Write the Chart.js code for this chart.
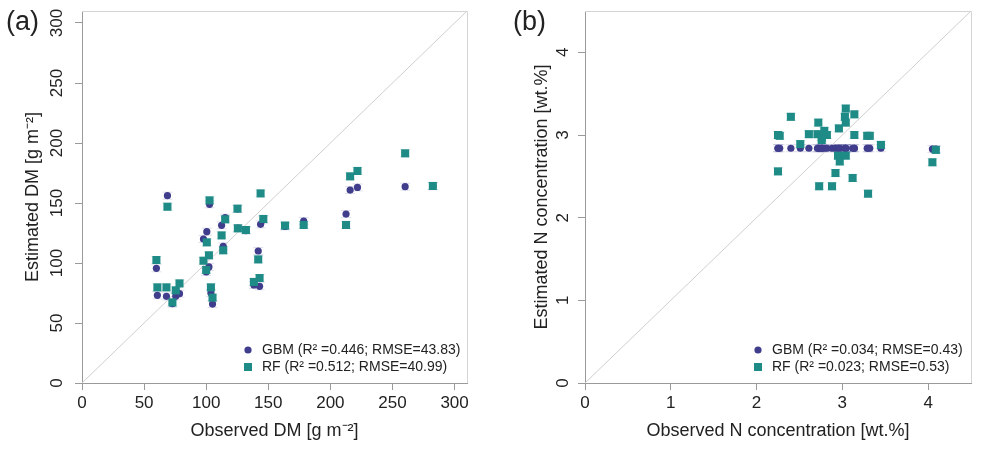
<!DOCTYPE html>
<html>
<head>
<meta charset="utf-8">
<script src="https://cdn.jsdelivr.net/npm/chart.js@4.4.0/dist/chart.umd.min.js"></script>
<style>
  html, body { margin: 0; padding: 0; background: #fff; }
  #wrap { position: relative; width: 981px; height: 451px; }
  canvas { position: absolute; top: 0; }
  #cA { left: 0; }
  #cB { left: 495px; }
</style>
</head>
<body>
<div id="wrap">
  <canvas id="cA" width="490" height="451"></canvas>
  <canvas id="cB" width="486" height="451"></canvas>
</div>
<script>
// (a) dry matter, g m-2 : observed vs estimated
var obsDM = [59.9, 60.7, 68.0, 68.8, 72.8, 75.5, 78.5, 97.8, 100.0, 100.5, 102.2, 102.7, 103.8, 105.1, 112.4, 113.7,
             115.3, 125.2, 125.5, 132.0, 138.4, 141.9, 143.0, 143.8, 146.0, 163.5, 178.5, 212.6, 215.9, 221.8, 260.2, 282.5];
var gbmDM = [95.6, 73.1, 72.2, 156.1, 66.1, 72.2, 74.4, 120.0, 92.5, 126.1, 96.7, 148.9, 75.0, 65.8, 131.4, 113.9,
             137.8, 145.0, 129.0, 127.0, 81.7, 110.0, 80.6, 132.2, 136.0, 130.5, 135.0, 140.8, 160.8, 163.0, 163.6, 164.0];
var rfDM  = [102.5, 79.7, 79.7, 146.9, 67.2, 77.2, 83.0, 101.9, 94.2, 117.2, 106.4, 152.2, 79.7, 71.1, 123.0, 110.6,
             136.4, 145.3, 128.9, 127.5, 84.2, 103.0, 87.5, 158.0, 136.7, 131.2, 131.7, 131.7, 172.2, 176.7, 191.4, 164.2];
var ticksDM = [0, 50, 100, 150, 200, 250, 300];
var limDM = 310;

// (b) N concentration, wt.%
var obsN = [2.25, 2.27, 2.25, 2.40, 2.51, 2.61, 2.72, 2.71, 2.73, 2.76, 2.79, 2.82, 2.76, 2.88, 2.92, 2.95,
            2.96, 2.97, 3.03, 3.04, 3.04, 3.04, 3.14, 3.14, 3.12, 3.29, 3.32, 3.30, 3.45, 4.05, 4.09];
var gbmN = [2.84, 2.84, 2.84, 2.84, 2.84, 2.84, 2.84, 2.84, 2.84, 2.84, 2.84, 2.84, 2.84, 2.84, 2.84, 2.84,
            2.84, 2.84, 2.84, 2.84, 2.84, 2.84, 2.84, 2.84, 2.84, 2.84, 2.84, 2.84, 2.84, 2.83, 2.83];
var rfN  = [3.00, 2.99, 2.56, 3.22, 2.89, 3.01, 3.15, 3.01, 2.38, 2.97, 3.05, 3.00, 2.94, 2.38, 2.54, 2.75,
            3.08, 2.68, 3.22, 3.32, 3.15, 2.75, 3.25, 3.00, 2.48, 2.99, 2.99, 2.29, 2.88, 2.67, 2.82];
var ticksN = [0, 1, 2, 3, 4];
var limN = 4.5;

var legendDM = ['GBM (R\u00b2 =0.446; RMSE=43.83)', 'RF (R\u00b2 =0.512; RMSE=40.99)'];
var legendN  = ['GBM (R\u00b2 =0.034; RMSE=0.43)', 'RF (R\u00b2 =0.023; RMSE=0.53)'];

var FONT = '"Liberation Sans", Arial, Helvetica, sans-serif';
var GBM_COL = '#3f3d8c';
var RF_COL = '#1f8b87';

function pts(xs, ys) {
  return xs.map(function (x, i) { return { x: x, y: ys[i] }; });
}

// light whiskers behind the markers, the box, rotated y labels, tag and legend
var deco = {
  id: 'deco',
  beforeDatasetsDraw: function (chart) {
    var ctx = chart.ctx;
    chart.data.datasets.forEach(function (ds, i) {
      if (!ds.capColor) return;
      var meta = chart.getDatasetMeta(i);
      ctx.save();
      ctx.strokeStyle = ds.capColor;
      ctx.lineWidth = 1;
      meta.data.forEach(function (p) {
        ctx.beginPath();
        ctx.moveTo(p.x - 5, p.y - 3.5); ctx.lineTo(p.x + 5, p.y - 3.5);
        ctx.moveTo(p.x - 5, p.y + 3.5); ctx.lineTo(p.x + 5, p.y + 3.5);
        ctx.moveTo(p.x, p.y - 3.5); ctx.lineTo(p.x, p.y + 3.5);
        ctx.stroke();
      });
      ctx.restore();
    });
  },
  afterDraw: function (chart, args, o) {
    var ctx = chart.ctx, a = chart.chartArea, ys = chart.scales.y;
    ctx.save();
    ctx.strokeStyle = '#d4d4d4';
    ctx.lineWidth = 1;
    ctx.beginPath();
    ctx.moveTo(a.left, a.top + 0.5);
    ctx.lineTo(a.right + 0.5, a.top + 0.5);
    ctx.lineTo(a.right + 0.5, a.bottom);
    ctx.stroke();

    ctx.fillStyle = '#222';
    ctx.font = '17px ' + FONT;
    ctx.textAlign = 'center';
    ctx.textBaseline = 'middle';
    ys.ticks.forEach(function (t) {
      var py = ys.getPixelForValue(t.value);
      ctx.save();
      ctx.translate(a.left - o.tickGap, py);
      ctx.rotate(-Math.PI / 2);
      ctx.fillText(String(t.value), 0, 0);
      ctx.restore();
    });

    ctx.font = '27px ' + FONT;
    ctx.textAlign = 'left';
    ctx.fillText(o.tag, o.tagX, o.tagY);

    ctx.font = '14px ' + FONT;
    var gbm = chart.data.datasets[1], rf = chart.data.datasets[2];
    ctx.fillStyle = gbm.backgroundColor;
    ctx.beginPath();
    ctx.arc(o.legX, o.legY, 3.6, 0, Math.PI * 2);
    ctx.fill();
    ctx.fillStyle = rf.backgroundColor;
    ctx.fillRect(o.legX - 4, o.legY + o.legGap - 4, 8, 8);
    ctx.fillStyle = '#222';
    ctx.fillText(gbm.label, o.legX + 14, o.legY);
    ctx.fillText(rf.label, o.legX + 14, o.legY + o.legGap);
    ctx.restore();
  }
};

function makePanel(id, d) {
  return new Chart(document.getElementById(id), {
    type: 'scatter',
    data: {
      datasets: [
        {
          type: 'line', label: '1:1', data: [{ x: 0, y: 0 }, { x: d.lim, y: d.lim }],
          borderColor: '#cfcfcf', borderWidth: 1, pointRadius: 0, order: 3
        },
        {
          label: d.legend[0], data: pts(d.obs, d.gbm), order: 2,
          backgroundColor: GBM_COL, borderWidth: 0, pointStyle: 'circle', pointRadius: 3.6,
          capColor: 'rgba(63,61,140,0.16)'
        },
        {
          label: d.legend[1], data: pts(d.obs, d.rf), order: 1,
          backgroundColor: RF_COL, borderWidth: 0, pointStyle: 'rect', pointRadius: 5.7,
          capColor: 'rgba(31,139,135,0.2)'
        }
      ]
    },
    options: {
      responsive: false,
      animation: false,
      events: [],
      layout: { padding: d.pad },
      plugins: {
        legend: { display: false },
        tooltip: { enabled: false },
        deco: d.deco
      },
      scales: {
        x: {
          type: 'linear', min: 0, max: d.lim,
          afterBuildTicks: function (ax) { ax.ticks = d.ticks.map(function (v) { return { value: v }; }); },
          afterFit: function (ax) { ax.height = 68; },
          grid: { drawOnChartArea: false, drawTicks: true, tickLength: 7, color: '#9a9a9a' },
          border: { display: true, color: '#9a9a9a' },
          ticks: { color: '#222', font: { family: FONT, size: 17 }, padding: 3, maxRotation: 0 },
          title: { display: true, text: d.xTitle, color: '#222', font: { family: FONT, size: 18 }, padding: { top: 0, bottom: 9 } }
        },
        y: {
          type: 'linear', min: 0, max: d.lim,
          afterBuildTicks: function (ax) { ax.ticks = d.ticks.map(function (v) { return { value: v }; }); },
          afterFit: function (ax) { ax.width = d.yWidth; },
          grid: { drawOnChartArea: false, drawTicks: true, tickLength: 7, color: '#9a9a9a' },
          border: { display: true, color: '#9a9a9a' },
          ticks: { display: false },
          title: { display: true, text: d.yTitle, color: '#222', font: { family: FONT, size: 18 }, padding: { top: d.yTitlePad, bottom: 0 } }
        }
      }
    },
    plugins: [deco]
  });
}

makePanel('cA', {
  obs: obsDM, gbm: gbmDM, rf: rfDM, ticks: ticksDM, lim: limDM, legend: legendDM,
  xTitle: 'Observed DM [g m\u207b\u00b2]', yTitle: 'Estimated DM [g m\u207b\u00b2]',
  pad: { left: 0, top: 11, right: 23, bottom: 0 }, yWidth: 82, yTitlePad: 22,
  deco: { tag: '(a)', tagX: 6, tagY: 23, tickGap: 25, legX: 248, legY: 350, legGap: 17 }
});

makePanel('cB', {
  obs: obsN, gbm: gbmN, rf: rfN, ticks: ticksN, lim: limN, legend: legendN,
  xTitle: 'Observed N concentration [wt.%]', yTitle: 'Estimated N concentration [wt.%]',
  pad: { left: 0, top: 11, right: 10, bottom: 0 }, yWidth: 90, yTitlePad: 36,
  deco: { tag: '(b)', tagX: 18, tagY: 23, tickGap: 22, legX: 263, legY: 350, legGap: 17 }
});
</script>
</body>
</html>
